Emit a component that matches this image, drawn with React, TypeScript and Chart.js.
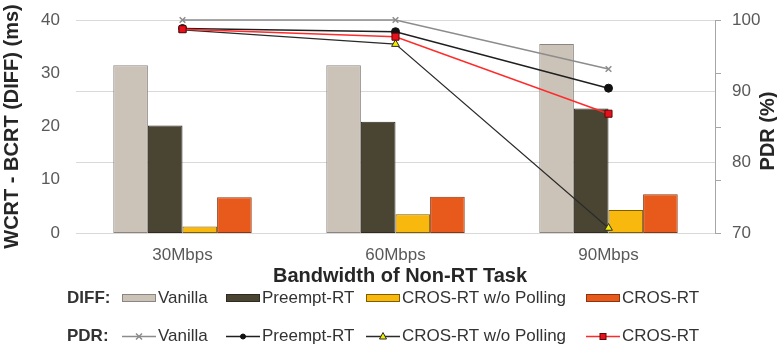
import React, { useEffect, useRef } from 'react';
import { Chart, registerables } from 'chart.js';

Chart.register(...registerables);

const categories = ['30Mbps', '60Mbps', '90Mbps'];
const seriesNames = ['Vanilla', 'Preempt-RT', 'CROS-RT w/o Polling', 'CROS-RT'];

const diffVanilla = [31.5, 31.5, 35.5];
const diffPreempt = [20.2, 20.9, 23.4];
const diffNoPolling = [1.2, 3.5, 4.3];
const diffCros = [6.7, 6.8, 7.3];

const pdrVanilla = [100, 100, 93.1];
const pdrPreempt = [98.8, 98.35, 90.4];
const pdrNoPolling = [98.6, 96.6, 70.7];
const pdrCros = [98.7, 97.65, 86.8];

const diffTicks = [0, 10, 20, 30, 40];
const pdrTicks = [70, 80, 90, 100];

const FONT = "'Liberation Sans', Arial, Helvetica, sans-serif";

const overlayPlugin = {
  id: 'overlay',
  afterDraw(chart: any) {
    const ctx = chart.ctx as CanvasRenderingContext2D;
    const area = chart.chartArea;
    const yL = chart.scales.y;
    ctx.save();
    // minor tick marks on the right axis, aligned to the left scale ticks
    ctx.strokeStyle = '#a6a6a6';
    ctx.lineWidth = 1;
    yL.ticks.forEach((t: any) => {
      const py = Math.round(yL.getPixelForValue(t.value)) + 0.5;
      ctx.beginPath();
      ctx.moveTo(area.right, py);
      ctx.lineTo(area.right + 6, py);
      ctx.stroke();
    });
    // right title (reads bottom to top)
    ctx.save();
    ctx.translate(768, 131);
    ctx.rotate(-Math.PI / 2);
    ctx.font = `bold 20px ${FONT}`;
    ctx.fillStyle = '#262626';
    ctx.textAlign = 'center';
    ctx.textBaseline = 'middle';
    ctx.fillText('PDR (%)', 0, 0);
    ctx.restore();
    // x title
    ctx.font = `bold 20px ${FONT}`;
    ctx.fillStyle = '#262626';
    ctx.textAlign = 'center';
    ctx.textBaseline = 'middle';
    ctx.fillText('Bandwidth of Non-RT Task', 400, 276);

    // legend
    const ds = chart.data.datasets;
    const itemX = [122, 226, 366, 586];
    const sw = 34;
    const row1 = 298;
    const row2 = 336;
    ctx.textAlign = 'left';
    ctx.font = `bold 17px ${FONT}`;
    ctx.fillStyle = '#333333';
    ctx.fillText('DIFF:', 67, row1);
    ctx.fillText('PDR:', 67, row2);
    ctx.font = `17px ${FONT}`;
    for (let i = 0; i < 4; i++) {
      const bar = ds[i];
      const x = itemX[i];
      ctx.fillStyle = bar.backgroundColor;
      ctx.fillRect(x + 0.5, row1 - 3.5, sw - 1, 7);
      ctx.strokeStyle = bar.borderColor;
      ctx.lineWidth = 1;
      ctx.strokeRect(x + 0.5, row1 - 3.5, sw - 1, 7);
      ctx.fillStyle = '#333333';
      ctx.fillText(bar.label, x + sw + 2, row1);

      const ln = ds[i + 4];
      ctx.strokeStyle = ln.borderColor;
      ctx.lineWidth = 1.5;
      ctx.beginPath();
      ctx.moveTo(x, row2 + 0.5);
      ctx.lineTo(x + sw, row2 + 0.5);
      ctx.stroke();
      const cx = x + sw / 2;
      const cy = row2 + 0.5;
      ctx.fillStyle = ln.pointBackgroundColor;
      ctx.strokeStyle = ln.pointBorderColor;
      ctx.lineWidth = 1;
      const st = ln.pointStyle;
      if (st === 'crossRot') {
        ctx.lineWidth = 1.5;
        ctx.beginPath();
        ctx.moveTo(cx - 3, cy - 3); ctx.lineTo(cx + 3, cy + 3);
        ctx.moveTo(cx + 3, cy - 3); ctx.lineTo(cx - 3, cy + 3);
        ctx.stroke();
      } else if (st === 'circle') {
        ctx.beginPath();
        ctx.arc(cx, cy, 2.5, 0, Math.PI * 2);
        ctx.fill();
        ctx.stroke();
      } else if (st === 'triangle') {
        ctx.beginPath();
        ctx.moveTo(cx, cy - 4);
        ctx.lineTo(cx + 3.5, cy + 2.5);
        ctx.lineTo(cx - 3.5, cy + 2.5);
        ctx.closePath();
        ctx.fill();
        ctx.stroke();
      } else {
        ctx.fillRect(cx - 3, cy - 3, 6, 6);
        ctx.strokeRect(cx - 3, cy - 3, 6, 6);
      }
      ctx.fillStyle = '#333333';
      ctx.fillText(ln.label, x + sw + 2, row2);
    }
    ctx.restore();
  },
};

export default function App() {
  const ref = useRef<HTMLCanvasElement | null>(null);

  useEffect(() => {
    if (!ref.current) return;
    const barBase = {
      type: 'bar' as const,
      yAxisID: 'y',
      borderWidth: 1,
      borderSkipped: false as const,
      categoryPercentage: 0.65,
      barPercentage: 1.0,
      order: 10,
    };
    const lineBase = {
      type: 'line' as const,
      yAxisID: 'y1',
      borderWidth: 1.5,
      fill: false,
      tension: 0,
      clip: false,
      pointBorderWidth: 1,
    };
    const chart = new Chart(ref.current, {
      data: {
        labels: categories,
        datasets: [
          { ...barBase, label: seriesNames[0], data: diffVanilla, backgroundColor: '#CBC3B8', borderColor: '#8a8580' },
          { ...barBase, label: seriesNames[1], data: diffPreempt, backgroundColor: '#4A4433', borderColor: '#2e2a20' },
          { ...barBase, label: seriesNames[2], data: diffNoPolling, backgroundColor: '#F8B80E', borderColor: '#7d5e05' },
          { ...barBase, label: seriesNames[3], data: diffCros, backgroundColor: '#E85A1C', borderColor: '#8a3510' },
          {
            ...lineBase, label: seriesNames[0], data: pdrVanilla, order: 4,
            borderColor: '#8c8c8c', pointStyle: 'crossRot', pointRadius: 4, pointBorderWidth: 1.5,
            pointBackgroundColor: '#8c8c8c', pointBorderColor: '#8c8c8c',
          },
          {
            ...lineBase, label: seriesNames[1], data: pdrPreempt, order: 3,
            borderColor: '#1f1f1f', pointStyle: 'circle', pointRadius: 4,
            pointBackgroundColor: '#111111', pointBorderColor: '#111111',
          },
          {
            ...lineBase, label: seriesNames[2], data: pdrNoPolling, order: 2, borderWidth: 1.2,
            borderColor: '#2a2a2a', pointStyle: 'triangle', pointRadius: 4.5,
            pointBackgroundColor: '#f2ee00', pointBorderColor: '#2a2a2a',
          },
          {
            ...lineBase, label: seriesNames[3], data: pdrCros, order: 1,
            borderColor: '#ff2b2b', pointStyle: 'rect', pointRadius: 5,
            pointBackgroundColor: '#e8101a', pointBorderColor: '#5a0a0a',
          },
        ],
      } as any,
      options: {
        responsive: false,
        animation: false,
        layout: { padding: { top: 20, left: 0, right: 0, bottom: 0 } },
        plugins: {
          legend: { display: false },
          tooltip: { enabled: false },
        },
        scales: {
          x: {
            type: 'category',
            offset: true,
            grid: { display: false, drawTicks: false },
            border: { display: false },
            ticks: { color: '#595959', font: { family: FONT, size: 17 }, padding: 12, maxRotation: 0 },
            afterFit: (s: any) => { s.height = 113; s.paddingLeft = 0; s.paddingRight = 0; },
          },
          y: {
            position: 'left',
            min: 0,
            max: 40,
            grid: { display: false, drawTicks: false },
            border: { display: false },
            afterBuildTicks: (s: any) => { s.ticks = diffTicks.map((v) => ({ value: v })); },
            ticks: { color: '#595959', font: { family: FONT, size: 17 }, padding: 16 },
            title: {
              display: true,
              text: 'WCRT - BCRT (DIFF) (ms)',
              color: '#262626',
              font: { family: FONT, size: 20, weight: 'bold' },
              padding: 0,
            },
            afterFit: (s: any) => { s.width = 76; s.paddingTop = 0; s.paddingBottom = 0; },
          },
          y1: {
            position: 'right',
            min: 70,
            max: 100,
            grid: { display: true, drawOnChartArea: true, drawTicks: false, color: '#d9d9d9', lineWidth: 1 },
            border: { display: true, color: '#a6a6a6', width: 1 },
            afterBuildTicks: (s: any) => { s.ticks = pdrTicks.map((v) => ({ value: v })); },
            ticks: { color: '#595959', font: { family: FONT, size: 17 }, padding: 17 },
            afterFit: (s: any) => { s.width = 62; s.paddingTop = 0; s.paddingBottom = 0; },
          },
        },
      } as any,
      plugins: [overlayPlugin],
    });
    return () => chart.destroy();
  }, []);

  return (
    <div style={{ position: 'absolute', left: 0, top: 0, width: 777, height: 346, background: '#ffffff' }}>
      <canvas ref={ref} width={777} height={346} style={{ width: 777, height: 346, display: 'block' }} />
    </div>
  );
}
